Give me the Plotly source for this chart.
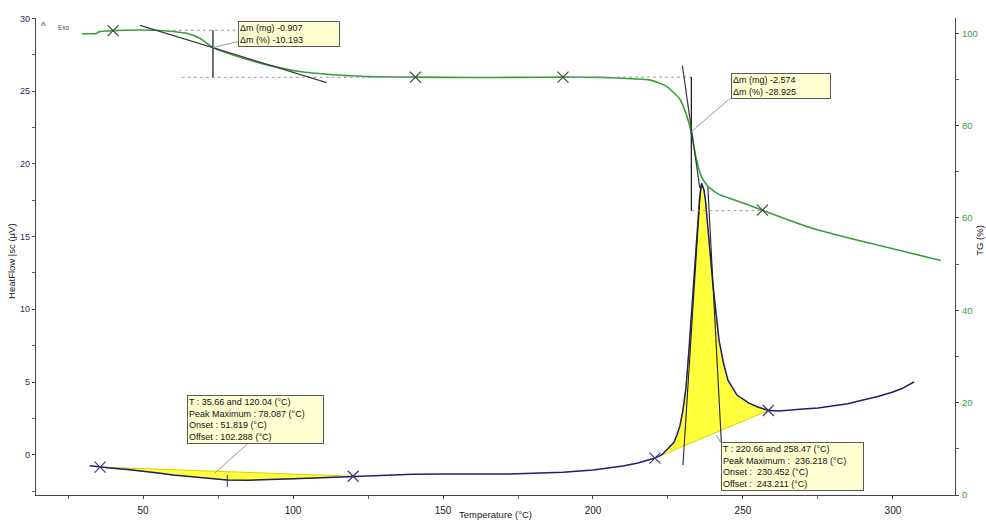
import numpy as np
import plotly.graph_objects as go

# ---- TG curve (mass %, right axis) ----
tg_temp = [29.6, 33.0, 34.4, 35.5, 40.0, 48.9, 57.8, 64.5, 68.9, 73.3, 80.0, 91.1, 102.2,
           113.3, 118.9, 125.0, 140.8, 160.0, 175.0, 190.0, 202.2, 210.0, 218.9, 224.5,
           229.0, 231.3, 232.8, 234.5, 236.1, 237.5, 238.9, 242.0, 246.7, 255.6, 264.5,
           273.3, 285.6, 302.0, 316.0]
tg_mass = [99.9, 99.9, 99.95, 100.35, 100.56, 100.7, 100.5, 100.0, 98.9, 96.9, 95.3, 93.2,
           91.7, 91.0, 90.8, 90.6, 90.5, 90.4, 90.45, 90.5, 90.45, 90.25, 89.9, 88.5,
           85.7, 82.0, 78.4, 72.6, 69.0, 67.5, 66.5, 65.1, 64.0, 61.9, 59.7, 57.7, 55.6,
           53.0, 50.8]

# ---- DSC heat flow curve (µV, left axis) ----
dsc_temp = [32.2, 35.66, 40, 45, 50, 55, 60, 65, 70, 75, 78.09, 85, 90, 95, 100, 105, 110,
            115, 120.04, 130, 140, 150, 160, 170, 180, 190, 200, 205, 210, 215, 220.66,
            223, 225, 227, 228, 229, 230, 231, 232, 233, 234, 235, 235.5, 236.22, 237,
            237.5, 238, 239, 240, 241, 242, 243.5, 245, 248, 252, 255, 258.47, 262, 266,
            270, 275, 280, 285, 290, 295, 300, 303, 307]
dsc_flow = [-0.76, -0.85, -0.93, -1.02, -1.12, -1.25, -1.39, -1.5, -1.6, -1.7, -1.74, -1.76,
            -1.74, -1.7, -1.66, -1.62, -1.58, -1.53, -1.48, -1.4, -1.35, -1.33, -1.34,
            -1.33, -1.28, -1.2, -1.05, -0.93, -0.78, -0.57, -0.23, 0.0, 0.39, 0.85, 1.35,
            2.0, 3.07, 4.6, 7.2, 10.2, 13.4, 16.2, 17.5, 18.67, 18.2, 17.5, 16.5, 14.0,
            11.7, 9.6, 7.9, 6.3, 5.13, 4.1, 3.55, 3.28, 3.04, 3.0, 3.05, 3.14, 3.22, 3.35,
            3.5, 3.76, 4.0, 4.31, 4.55, 5.0]

# ---- evaluation results ----
peak1_limits = [35.66, 120.04]
peak1_max = 78.087
peak2_limits = [220.66, 258.47]
peak2_max = 236.218

step1_top = 100.65
step1_dm_pct = -10.193
step1_dm_mg = -0.907
step1_temp = 73.3
step1_top_span = [57.9, 81.6]
step1_bottom_span = [62.9, 140.8]
step1_tangent_t = [49.0, 111.2]
step1_tangent_v = [101.7, 89.3]

step2_top = 90.5
step2_dm_pct = -28.925
step2_dm_mg = -2.574
step2_temp = 232.8
step2_top_span = [190.0, 232.8]
step2_bottom_span = [232.8, 256.5]
step2_tangent_t = [229.8, 235.6]
step2_tangent_v = [93.0, 66.5]

peak2_onset_t = [230.0, 235.9]
peak2_onset_v = [-0.71, 18.5]
peak2_offset_t = [238.3, 242.8]
peak2_offset_v = [18.4, 0.87]
peak1_tick_v = [-1.4, -2.2]

tg_marks_t = [40.0, 140.8, 190.0, 256.5]

GREEN = "#3a9d3a"
NAVY = "#1e1e78"
YELLOW = "#ffff3c"
DARK = "#333333"
FONT = "Liberation Sans, Arial, sans-serif"

fig = go.Figure()


def peak_polygon(limits):
    t = np.array(dsc_temp)
    v = np.array(dsc_flow)
    sel = (t >= limits[0]) & (t <= limits[1])
    pt = list(t[sel])
    pv = list(v[sel])
    # close along the straight baseline between the two limits
    return pt + [pt[0]], pv + [pv[0]]


for lim in (peak1_limits, peak2_limits):
    px, py = peak_polygon(lim)
    fig.add_trace(go.Scatter(x=px, y=py, mode="lines", fill="toself", fillcolor=YELLOW,
                             line=dict(color="#d6d600", width=1), hoverinfo="skip",
                             showlegend=False))

# DSC curve
fig.add_trace(go.Scatter(x=dsc_temp, y=dsc_flow, mode="lines",
                         line=dict(color=NAVY, width=1.5), showlegend=False))

# TG curve
fig.add_trace(go.Scatter(x=tg_temp, y=tg_mass, mode="lines", yaxis="y2",
                         line=dict(color=GREEN, width=1.6, shape="spline", smoothing=0.5),
                         showlegend=False))


def seg(x, y, axis="y", color=DARK, width=1.0, dash=None):
    fig.add_trace(go.Scatter(x=x, y=y, mode="lines", yaxis=axis,
                             line=dict(color=color, width=width, dash=dash),
                             hoverinfo="skip", showlegend=False))


# mass-loss steps: dotted levels, vertical bars, tangents
s1_bottom = step1_top + step1_dm_pct
s2_bottom = step2_top + step2_dm_pct
seg(step1_top_span, [step1_top] * 2, "y2", "#9a9a9a", 1, "dot")
seg(step1_bottom_span, [s1_bottom] * 2, "y2", "#9a9a9a", 1, "dot")
seg(step2_top_span, [step2_top] * 2, "y2", "#9a9a9a", 1, "dot")
seg(step2_bottom_span, [s2_bottom] * 2, "y2", "#9a9a9a", 1, "dot")
seg([step1_temp] * 2, [step1_top, s1_bottom], "y2", "#222222", 1.3)
seg([step2_temp] * 2, [step2_top, s2_bottom], "y2", "#222222", 1.3)
seg(step1_tangent_t, step1_tangent_v, "y2", "#3a3a3a", 1.2)
seg(step2_tangent_t, step2_tangent_v, "y2", "#3a3a3a", 1.2)

# DSC peak construction lines
seg(peak2_onset_t, peak2_onset_v, "y", "#222222", 1.1)
seg(peak2_offset_t, peak2_offset_v, "y", "#222222", 1.1)
seg([peak1_max] * 2, peak1_tick_v, "y", "#333333", 1.0)

# limit markers
dsc_mark_t = peak1_limits + peak2_limits
dsc_mark_v = list(np.interp(dsc_mark_t, dsc_temp, dsc_flow))
fig.add_trace(go.Scatter(x=dsc_mark_t, y=dsc_mark_v, mode="markers",
                         marker=dict(symbol="x-thin", size=11,
                                     line=dict(color="#3a3a6a", width=1.2)),
                         hoverinfo="skip", showlegend=False))
tg_mark_v = list(np.interp(tg_marks_t, tg_temp, tg_mass))
fig.add_trace(go.Scatter(x=tg_marks_t, y=tg_mark_v, mode="markers", yaxis="y2",
                         marker=dict(symbol="x-thin", size=11,
                                     line=dict(color="#3a4a3a", width=1.2)),
                         hoverinfo="skip", showlegend=False))

# callout connector lines
seg([step1_temp, 81.6], [96.9, 98.2], "y2", "#9a9a9a", 1)
seg([step2_temp, 246.1], [78.7, 86.1], "y2", "#9a9a9a", 1)
seg([73.9, 86.6], [-1.26, 1.07], "y", "#9a9a9a", 1)
seg([241.1, 242.8], [1.35, 0.79], "y", "#9a9a9a", 1)

box = dict(bgcolor="#ffffd2", bordercolor="#5a5a5a", borderwidth=1, borderpad=1,
           align="left", xanchor="left", yanchor="top", showarrow=False,
           font=dict(family=FONT, size=9, color="#111111"))

annotations = [
    dict(x=81.6, y=102.7, xref="x", yref="y2", width=98,
         text=f"Δm (mg) {step1_dm_mg:.3f}<br>Δm (%) {step1_dm_pct:.3f}", **box),
    dict(x=246.1, y=91.35, xref="x", yref="y2", width=96,
         text=f"Δm (mg) {step2_dm_mg:.3f}<br>Δm (%) {step2_dm_pct:.3f}", **box),
    dict(x=64.5, y=4.1, xref="x", yref="y", width=133,
         text=(f"T : {peak1_limits[0]:.2f} and {peak1_limits[1]:.2f} (°C)<br>"
               f"Peak Maximum : {peak1_max:.3f} (°C)<br>Onset : 51.819 (°C)<br>"
               f"Offset : 102.288 (°C)"), **box),
    dict(x=242.8, y=0.89, xref="x", yref="y", width=139,
         text=(f"T : {peak2_limits[0]:.2f} and {peak2_limits[1]:.2f} (°C)<br>"
               f"Peak Maximum :  {peak2_max:.3f} (°C)<br>Onset :  230.452 (°C)<br>"
               f"Offset :  243.211 (°C)"), **box),
    # axis titles
    dict(x=-0.0265, y=0.49, xref="paper", yref="paper", text="HeatFlow |sc (µV)",
         textangle=-90, showarrow=False, xanchor="center", yanchor="middle",
         font=dict(family=FONT, size=9.5, color="#222222")),
    dict(x=1.0272, y=0.535, xref="paper", yref="paper", text="TG (%)",
         textangle=-90, showarrow=False, xanchor="center", yanchor="middle",
         font=dict(family=FONT, size=9.5, color="#222222")),
    dict(x=0.5, y=-0.0415, xref="paper", yref="paper", text="Temperature (°C)",
         showarrow=False, xanchor="center", yanchor="middle",
         font=dict(family=FONT, size=9.5, color="#222222")),
    # exo direction marker
    dict(x=0.0087, y=0.982, xref="paper", yref="paper", text="^", showarrow=False,
         xanchor="center", yanchor="middle",
         font=dict(family=FONT, size=10, color="#444444")),
    dict(x=0.022, y=0.98, xref="paper", yref="paper", text="Exo", showarrow=False,
         xanchor="left", yanchor="middle",
         font=dict(family=FONT, size=6.5, color="#444444")),
]

axis_common = dict(showgrid=False, zeroline=False, showline=True, linecolor="#444444",
                   linewidth=1.2, ticks="outside", tickcolor="#444444", automargin=False)

fig.update_layout(
    width=986, height=521,
    margin=dict(l=36, r=31, t=18, b=26, autoexpand=False),
    paper_bgcolor="white", plot_bgcolor="white",
    showlegend=False,
    annotations=annotations,
    xaxis=dict(range=[14.3, 320.7], tick0=0, dtick=50, ticklen=3,
               ticklabelstandoff=3,
               tickfont=dict(family=FONT, size=10, color="#222222"),
               minor=dict(dtick=25, tick0=0, ticks="outside", ticklen=3,
                          tickcolor="#666666"),
               **axis_common),
    yaxis=dict(range=[-2.77, 30.03], tick0=0, dtick=5, ticklen=3,
               ticklabelstandoff=0,
               tickfont=dict(family=FONT, size=9, color="#2c2c5c"),
               minor=dict(dtick=2.5, tick0=0, ticks="outside", ticklen=3,
                          tickcolor="#666666"),
               **axis_common),
    yaxis2=dict(range=[0, 103.3], tick0=0, dtick=20, overlaying="y", side="right",
                ticklen=3, ticklabelstandoff=1,
                tickfont=dict(family=FONT, size=9.5, color=GREEN),
                minor=dict(dtick=10, tick0=0, ticks="outside", ticklen=3,
                           tickcolor="#666666"),
                **axis_common),
)

fig.write_html("out.html")
